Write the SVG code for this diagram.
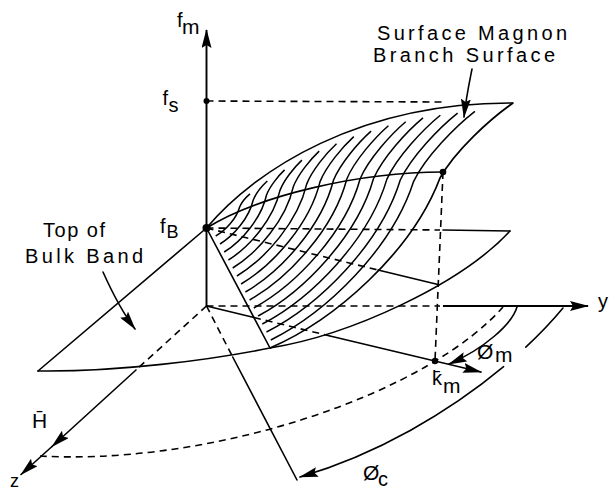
<svg xmlns="http://www.w3.org/2000/svg" width="613" height="490" viewBox="0 0 613 490">
<defs>
<style>
.s{fill:none;stroke:#000;stroke-width:1.6;stroke-linecap:round;stroke-linejoin:round}
.a{fill:none;stroke:#000;stroke-width:1.9;stroke-linecap:butt}
.d{fill:none;stroke:#000;stroke-width:1.6;stroke-dasharray:7 5}
.t{font-family:"Liberation Sans",Arial,sans-serif;font-size:20px;fill:#000}
.dot{fill:#000}
</style>
<marker id="ah" markerUnits="userSpaceOnUse" viewBox="0 0 19 10" markerWidth="19" markerHeight="10" refX="18" refY="5" orient="auto"><path d="M0,0 L19,5 L0,10 L3,5 z" fill="#000"/></marker>
<path id="edge" d="M0,0 C65,-28 142,-96 170,-170 C185,-197 220,-229 243,-245" fill="none" vector-effect="non-scaling-stroke"/>
</defs>
<rect width="613" height="490" fill="#fff"/>

<g id="bulk-band">
<path class="s" d="M38,371 L206.5,228"/>
<path class="d" d="M206.5,228 L440,230"/>
<path class="s" d="M443,230 L510,231"/>
<path class="s" d="M510,231 C460,285 350,335 270,348 C210,360 118,372 38,371"/>
</g>

<g id="magnon-surface">
<g id="hatch" stroke="#000" stroke-width="1.5">
<use href="#edge" transform="matrix(0.1568,-0.01555,0.01555,0.1568,215.7,236)"/>
<use href="#edge" transform="matrix(0.2262,-0.03125,0.03125,0.2262,220,244)"/>
<use href="#edge" transform="matrix(0.2922,-0.04327,0.04327,0.2922,224.2,252)"/>
<use href="#edge" transform="matrix(0.3555,-0.05264,0.05264,0.3555,228.4,260)"/>
<use href="#edge" transform="matrix(0.4170,-0.06059,0.06059,0.4170,232.7,268)"/>
<use href="#edge" transform="matrix(0.4755,-0.06506,0.06506,0.4755,236.9,276)"/>
<use href="#edge" transform="matrix(0.5333,-0.06892,0.06892,0.5333,241.1,284)"/>
<use href="#edge" transform="matrix(0.5876,-0.06972,0.06972,0.5876,245.4,292)"/>
<use href="#edge" transform="matrix(0.6419,-0.07012,0.07012,0.6419,249.6,300)"/>
<use href="#edge" transform="matrix(0.6931,-0.06745,0.06745,0.6931,253.8,308)"/>
<use href="#edge" transform="matrix(0.7441,-0.06498,0.06498,0.7441,258.1,316)"/>
<use href="#edge" transform="matrix(0.7927,-0.05966,0.05966,0.7927,262.3,324)"/>
<use href="#edge" transform="matrix(0.8404,-0.05352,0.05352,0.8404,266.5,332)"/>
<use href="#edge" transform="matrix(0.8869,-0.04657,0.04657,0.8869,270.8,340)"/>
</g>
<use id="right-edge" href="#edge" transform="translate(270,348)" stroke="#000" stroke-width="1.7"/>
<path class="s" d="M206.5,228 L270,348"/>
<path class="s" d="M206.5,228 C255,170 360,102 513,103"/>
<path class="s" d="M206.5,228 C260,195 360,172 443,172"/>
</g>

<g id="connectors">
<path class="a" d="M206.5,306 L206.5,30" marker-end="url(#ah)"/>
<path class="d" d="M206.5,306 L440,306"/>
<path class="a" d="M443,306 L588,306" marker-end="url(#ah)"/>
<path class="d" d="M206.5,306 L136,370"/>
<path class="s" d="M136,370 L52,446.5" marker-end="url(#ah)"/>
<path class="s" d="M52,446.5 L21,474.5" marker-end="url(#ah)"/>
<path class="d" d="M206.5,101 L445,102"/>
<path class="d" d="M443,172 L435,361"/>
<path class="d" d="M206.5,228 L378,270"/>
<path class="s" d="M378,270 L438,284.5"/>
<path class="s" d="M206.5,306 L254,317.5"/>
<path class="d" d="M254,317.5 L330,336"/>
<path class="s" d="M330,336 L481,372" marker-end="url(#ah)"/>
<path class="d" d="M206.5,306 L232.7,357"/>
<path class="s" d="M232.7,357 L297,480"/>
<path class="d" d="M40,456 A333.5,134.4 -12.6 0 0 503,307"/>
<path class="s" d="M517,307 C512,324 484,349 449,364" marker-end="url(#ah)"/>
<path class="s" d="M563,308 C552.4,320.8 539.9,334 525.8,347.1"/>
<path class="s" d="M503.6,366.7 C449.1,412.1 377,454.6 300,477" marker-end="url(#ah)"/>
<path class="s" d="M472,69 C469,84 466,98 464,117" marker-end="url(#ah)"/>
<path class="s" d="M103,272 C112,292 122,312 135,329" marker-end="url(#ah)"/>
</g>

<g id="points">
<circle class="dot" cx="206.5" cy="101" r="3"/>
<circle class="dot" cx="206.5" cy="228" r="4"/>
<circle class="dot" cx="443" cy="172" r="3.3"/>
<circle class="dot" cx="435" cy="361" r="3.2"/>
</g>

<g id="labels" class="t">
<text x="377" y="40" textLength="190" lengthAdjust="spacing">Surface Magnon</text>
<text x="373" y="62" textLength="182" lengthAdjust="spacing">Branch Surface</text>
<text x="43" y="237" textLength="62" lengthAdjust="spacing">Top of</text>
<text x="25" y="263" textLength="118" lengthAdjust="spacing">Bulk Band</text>
<text x="177" y="27">f<tspan x="182" y="33.5" font-size="21">m</tspan></text>
<text x="162.5" y="105">f<tspan x="168.5" y="111.7">s</tspan></text>
<text x="160" y="233">f<tspan x="166.5" y="238.3" font-size="18">B</tspan></text>
<text x="598" y="308">y</text>
<text x="432" y="385">k̄<tspan x="443" y="393" font-size="21">m</tspan></text>
<text x="477" y="359" font-size="21">Ø<tspan x="495" y="362">m</tspan></text>
<text x="363" y="480" font-size="21">Ø<tspan x="378" y="486" font-size="20">c</tspan></text>
<text x="32" y="428" font-size="21">H̄</text>
<text x="10" y="487" font-size="18">z</text>
</g>
</svg>
